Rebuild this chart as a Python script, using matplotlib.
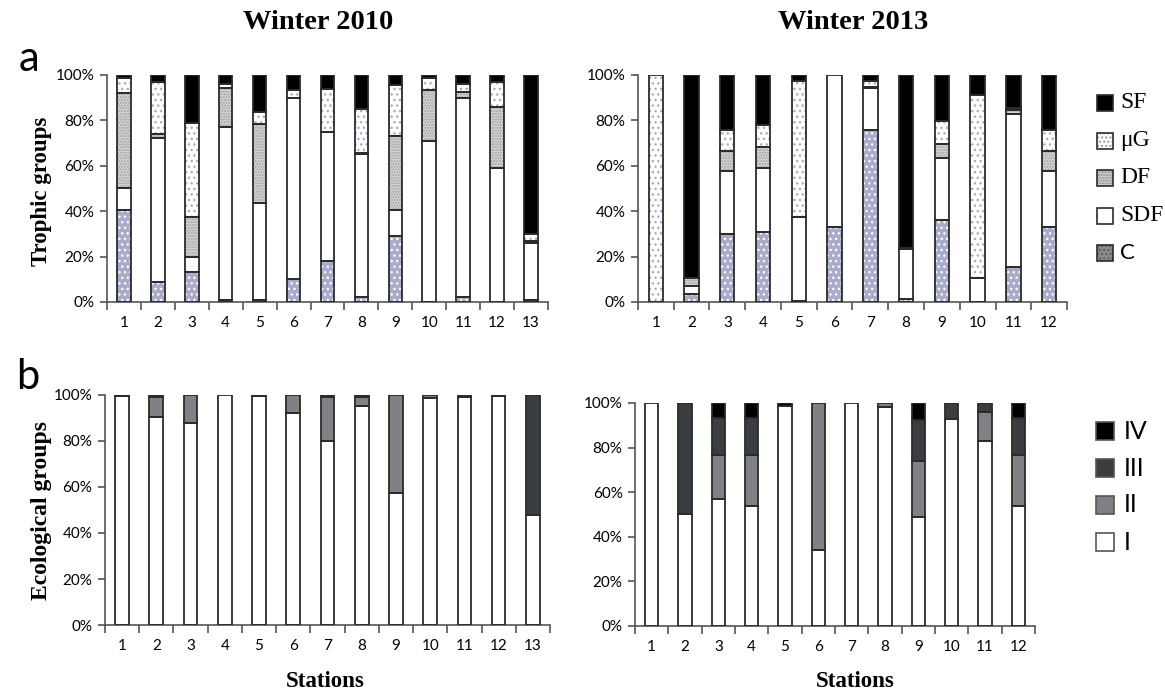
import numpy as np
import matplotlib
matplotlib.use("Agg")
from matplotlib import pyplot as plt
from matplotlib.patches import Rectangle

# trophic groups, cumulative tops (%), bottom -> top: C, SDF, DF, uG, SF
cum_2010 = {
    "C":   [40.6, 8.8, 13.0, 0.7, 0.7, 10.3, 17.9, 2.1, 28.9, 0.0, 2.1, 0.0, 1.0],
    "SDF": [50.1, 72.1, 19.6, 77.0, 43.8, 89.9, 75.1, 65.1, 40.6, 70.7, 89.7, 58.9, 26.0],
    "DF":  [91.9, 74.0, 37.4, 94.1, 78.4, 89.9, 75.1, 65.8, 73.2, 93.4, 92.4, 86.1, 26.7],
    "uG":  [98.5, 96.8, 79.0, 96.0, 83.6, 93.4, 93.7, 84.9, 95.6, 98.5, 96.0, 97.1, 30.1],
}
cum_2013 = {
    "C":   [0.0, 3.7, 30.1, 31.0, 0.6, 33.2, 75.6, 1.3, 36.2, 0.0, 15.5, 33.2],
    "SDF": [0.0, 7.2, 57.5, 59.1, 37.5, 100.0, 94.4, 23.2, 63.4, 10.6, 83.0, 57.5],
    "DF":  [0.0, 10.6, 66.5, 68.2, 37.5, 100.0, 94.9, 23.9, 69.7, 10.6, 84.5, 66.5],
    "uG":  [100.0, 10.6, 75.6, 77.8, 97.5, 100.0, 97.5, 23.9, 79.6, 91.4, 85.5, 75.6],
}

# ecological groups, cumulative tops (%), bottom -> top: I, II, III, IV
eco_2010 = {
    "I":   [99.6, 90.3, 87.7, 100.0, 99.5, 92.3, 80.1, 95.2, 57.5, 98.6, 99.3, 99.7, 47.8],
    "II":  [99.6, 99.3, 100.0, 100.0, 99.5, 100.0, 99.0, 99.0, 100.0, 100.0, 100.0, 100.0, 47.8],
    "III": [100.0, 100.0, 100.0, 100.0, 100.0, 100.0, 100.0, 100.0, 100.0, 100.0, 100.0, 100.0, 100.0],
}
eco_2013 = {
    "I":   [100.0, 50.1, 57.0, 53.7, 98.7, 33.9, 100.0, 98.2, 48.8, 92.8, 82.8, 53.7],
    "II":  [100.0, 50.1, 76.7, 76.7, 98.7, 100.0, 100.0, 100.0, 74.2, 92.8, 96.0, 76.7],
    "III": [100.0, 100.0, 93.3, 93.3, 98.7, 100.0, 100.0, 100.0, 92.2, 100.0, 100.0, 93.3],
}

SANS = "Lato"
SERIF = "Liberation Serif"
EDGE = "#2b2b2b"
AXC = "#555555"
W, H = 1165, 695

# (face, hatch colour, hatch)
trophic_style = {
    "C":   ("#a9abcc", "white", "..."),
    "SDF": ("white", None, None),
    "DF":  ("#d4d4d4", "#a0a0a0", "......"),
    "uG":  ("white", "#a9abd2", "..."),
    "SF":  ("black", None, None),
}
eco_colors = {"I": "white", "II": "#808184", "III": "#3b3e41", "IV": "black"}


def draw_bar(ax, x, bottom, height, face, hcol=None, hatch=None):
    if height <= 0:
        return
    ax.bar(x, height, 0.4, bottom=bottom, color=face, linewidth=0, zorder=2)
    if hatch:
        ax.bar(x, height, 0.4, bottom=bottom, color="none", edgecolor=hcol,
               hatch=hatch, linewidth=0, zorder=3)
    ax.bar(x, height, 0.4, bottom=bottom, color="none", edgecolor=EDGE,
           linewidth=1.3, zorder=4)


def style_axes(ax, n):
    ax.set_xlim(0.5, n + 0.5)
    ax.set_ylim(0, 100)
    for s in ["top", "right"]:
        ax.spines[s].set_visible(False)
    for s in ["left", "bottom"]:
        ax.spines[s].set_color(AXC)
        ax.spines[s].set_linewidth(1.2)
    ax.set_xticks(np.arange(1, n + 1))
    ax.set_xticklabels([str(i) for i in range(1, n + 1)], fontfamily=SANS, fontsize=11)
    ax.set_xticks(np.arange(0.5, n + 1), minor=True)
    ax.tick_params(axis="x", which="major", length=0, pad=10)
    ax.tick_params(axis="x", which="minor", length=6, color=AXC, width=1.2)
    ax.set_yticks(np.arange(0, 101, 20))
    ax.set_yticklabels([f"{v}%" for v in range(0, 101, 20)], fontfamily=SANS, fontsize=11)
    ax.tick_params(axis="y", length=5, color=AXC, width=1.2, pad=4)


def trophic_panel(ax, cum):
    n = len(cum["C"])
    for i in range(n):
        x = i + 1
        prev = 0.0
        for k in ["C", "SDF", "DF", "uG"]:
            top = cum[k][i]
            draw_bar(ax, x, prev, top - prev, *trophic_style[k])
            prev = top
        draw_bar(ax, x, prev, 100 - prev, *trophic_style["SF"])
    style_axes(ax, n)


def eco_panel(ax, cum):
    n = len(cum["I"])
    for i in range(n):
        x = i + 1
        prev = 0.0
        for k in ["I", "II", "III"]:
            top = cum[k][i]
            draw_bar(ax, x, prev, top - prev, eco_colors[k])
            prev = top
        draw_bar(ax, x, prev, 100 - prev, eco_colors["IV"])
    style_axes(ax, n)


def legend_box(x, yc, size, face, edge, hcol=None, hatch=None):
    # x, yc in pixels from top-left
    fx, fy = x / W, 1 - (yc + size / 2) / H
    fw, fh = size / W, size / H
    fig.add_artist(Rectangle((fx, fy), fw, fh, transform=fig.transFigure,
                             facecolor=face, linewidth=0))
    if hatch:
        fig.add_artist(Rectangle((fx, fy), fw, fh, transform=fig.transFigure,
                                 facecolor="none", edgecolor=hcol, hatch=hatch, linewidth=0))
    fig.add_artist(Rectangle((fx, fy), fw, fh, transform=fig.transFigure,
                             facecolor="none", edgecolor=edge, linewidth=1.2))


fig = plt.figure(figsize=(11.65, 6.95), dpi=100)
ax1 = fig.add_axes([0.0918, 0.5655, 0.3786, 0.3266])
ax2 = fig.add_axes([0.5476, 0.5655, 0.3683, 0.3266])
ax3 = fig.add_axes([0.0901, 0.1007, 0.3820, 0.3310])
ax4 = fig.add_axes([0.5451, 0.0993, 0.3433, 0.3209])

trophic_panel(ax1, cum_2010)
trophic_panel(ax2, cum_2013)
eco_panel(ax3, eco_2010)
eco_panel(ax4, eco_2013)

# titles and labels
fig.text(0.273, 0.968, "Winter 2010", ha="center", va="center", fontfamily=SERIF,
         fontweight="bold", fontsize=20.5)
fig.text(0.732, 0.968, "Winter 2013", ha="center", va="center", fontfamily=SERIF,
         fontweight="bold", fontsize=20.5)
fig.text(0.025, 0.915, "a", ha="center", va="center", fontfamily=SANS, fontsize=30)
fig.text(0.024, 0.457, "b", ha="center", va="center", fontfamily=SANS, fontsize=30)
fig.text(0.036, 0.725, "Trophic groups", rotation=90, ha="center", va="center",
         fontfamily=SERIF, fontweight="bold", fontsize=16.5)
fig.text(0.036, 0.265, "Ecological groups", rotation=90, ha="center", va="center",
         fontfamily=SERIF, fontweight="bold", fontsize=17)
fig.text(0.279, 0.019, "Stations", ha="center", va="center", fontfamily=SERIF,
         fontweight="bold", fontsize=16.5)
fig.text(0.734, 0.019, "Stations", ha="center", va="center", fontfamily=SERIF,
         fontweight="bold", fontsize=16.5)

# legend, trophic
t_order = ["SF", "uG", "DF", "SDF", "C"]
t_names = {"SF": "SF", "uG": "\u03bcG", "DF": "DF", "SDF": "SDF", "C": "C"}
t_leg_style = {
    "SF": ("black", None, None),
    "uG": ("white", "#9a9a9a", "...."),
    "DF": ("#cfcfcf", "#8c8c8c", "......"),
    "SDF": ("white", None, None),
    "C": ("#8a8a8a", "#5a5a5a", "...."),
}
for i, k in enumerate(t_order):
    yc = 103 + 37.5 * i
    legend_box(1097, yc, 16, t_leg_style[k][0], EDGE, t_leg_style[k][1], t_leg_style[k][2])
    fam = SANS if k == "C" else SERIF
    fig.text(1120 / W, 1 - yc / H, t_names[k], ha="left", va="center",
             fontfamily=fam, fontsize=17 if k != "C" else 16)

# legend, ecological
e_order = ["IV", "III", "II", "I"]
for i, k in enumerate(e_order):
    yc = 431 + 37 * i
    legend_box(1096, yc, 18, eco_colors[k], "#555555")
    fig.text(1124 / W, 1 - yc / H, k, ha="left", va="center", fontfamily=SANS, fontsize=18)

fig.savefig("out.png", dpi=100)
